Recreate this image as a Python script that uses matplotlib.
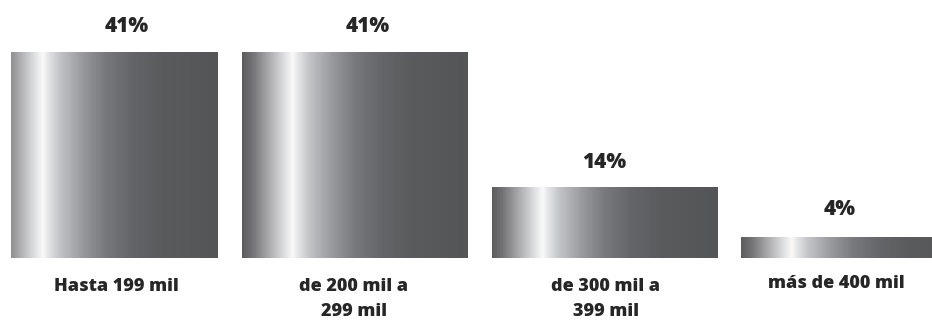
import numpy as np
import matplotlib
matplotlib.use("Agg")
import matplotlib.pyplot as plt
from matplotlib.colors import LinearSegmentedColormap

# Distribution by price range
categories = ["Hasta 199 mil", "de 200 mil a\n299 mil", "de 300 mil a\n399 mil", "más de 400 mil"]
shares = [41, 41, 14, 4]
value_labels = ["41%", "41%", "14%", "4%"]

# Layout
BAR_WIDTH = 0.903
VALUE_DX = [0.088, 0.053, 0.001, -0.058]
VALUE_DY = [14.4, 14.4, 14.4, 16.5]
CAT_DX = [0.044, -0.003, 0.006, -0.072]
CAT_DY = [-14.5, -14.5, -14.5, -12.5]
TEXT_COLOR = "#262626"
FONT = ["Open Sans", "DejaVu Sans"]

# Brushed-metal horizontal gradient
stops = [
    (0.00, (92, 92, 94)),
    (0.05, (118, 118, 121)),
    (0.12, (172, 172, 175)),
    (0.19, (224, 225, 227)),
    (0.225, (250, 250, 250)),
    (0.245, (230, 231, 232)),
    (0.30, (194, 195, 198)),
    (0.40, (152, 153, 156)),
    (0.50, (120, 121, 124)),
    (0.62, (100, 101, 104)),
    (0.75, (90, 91, 93)),
    (1.00, (84, 85, 87)),
]
metal = LinearSegmentedColormap.from_list(
    "metal", [(p, tuple(c / 255 for c in rgb)) for p, rgb in stops], N=512)

fig = plt.figure(figsize=(9.32, 3.2), dpi=100)
ax = fig.add_axes([11 / 932, 0, 1 - 11 / 932, 1])
ax.axis("off")

x = np.arange(len(categories))
bars = ax.bar(x, shares, width=BAR_WIDTH, color="none", edgecolor="none")
grad = np.linspace(0, 1, 512)[None, :]
for bar in bars:
    x0, w, h = bar.get_x(), bar.get_width(), bar.get_height()
    im = ax.imshow(grad, cmap=metal, aspect="auto", interpolation="bilinear",
                   extent=[x0, x0 + w, 0, h], zorder=2)
    im.set_clip_path(bar)
    im.set_clip_box(ax.bbox)
ax.set_xlim(-0.3765, 3.312)
ax.set_ylim(-12.34, 51.35)

for i, (v, lab) in enumerate(zip(shares, value_labels)):
    ax.annotate(lab, (x[i] + VALUE_DX[i], v), xytext=(0, VALUE_DY[i]),
                textcoords="offset points", ha="center", va="baseline",
                fontsize=15, fontweight="heavy", color=TEXT_COLOR, family=FONT,
                annotation_clip=False)

for i, cat in enumerate(categories):
    ax.annotate(cat, (x[i] + CAT_DX[i], 0), xytext=(0, CAT_DY[i]),
                textcoords="offset points", ha="center", va="top",
                fontsize=13, fontweight="heavy", color=TEXT_COLOR, family=FONT,
                linespacing=1.6, annotation_clip=False)

fig.savefig("out.png", dpi=100)
